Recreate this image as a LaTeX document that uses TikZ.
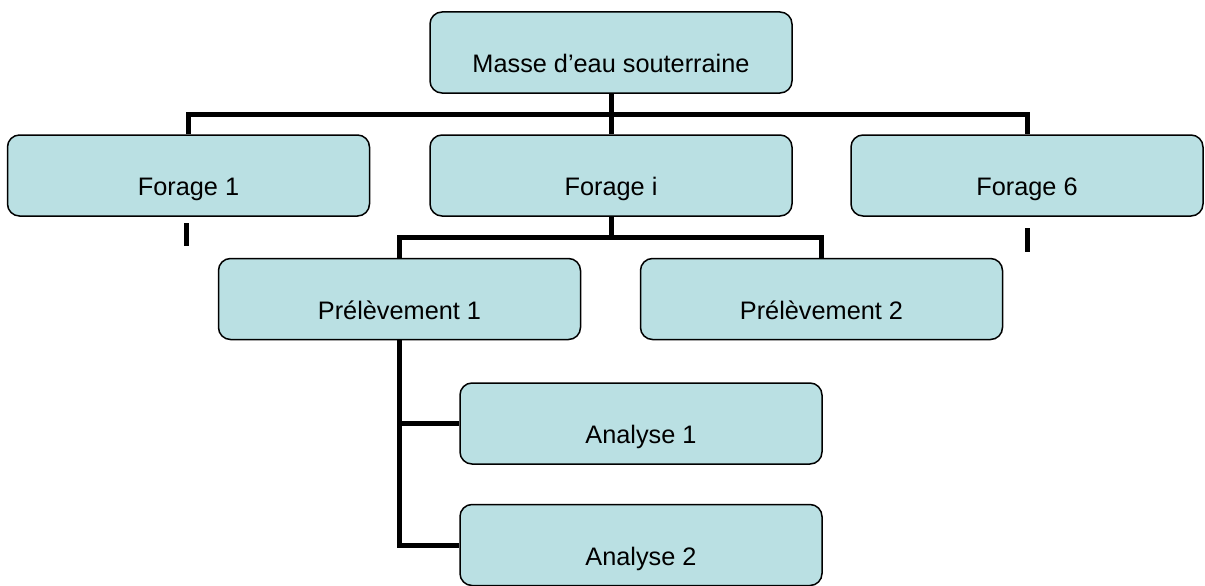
\documentclass[tikz,border=0pt]{standalone}
\usepackage{fontspec}
\setmainfont{Liberation Sans}
\definecolor{boxfill}{RGB}{186,224,227}
\begin{document}
\begin{tikzpicture}[x=1pt, y=-1pt,
    box/.style={draw=black, line width=1.5pt, fill=boxfill, rounded corners=12pt,
      minimum width=362pt, minimum height=81pt, inner sep=0pt,
      text height=40pt, text depth=0pt, font=\fontsize{25.3}{30}\selectfont},
    link/.style={line width=5pt}]
      \useasboundingbox (0,0) rectangle (1205,586);

      \node[box] (mes) at (611,52.5){Masse d’eau souterraine};
      \node[box] (f1) at (188.5,175.5){Forage 1};
      \node[box] (fi) at (611,175.5){Forage i};
      \node[box, minimum width=352pt] (f6) at (1027,175.5){Forage 6};
      \node[box] (p1) at (399.5,299){Prélèvement 1};
      \node[box] (p2) at (821.5,299){Prélèvement 2};
      \node[box] (a1) at (641,423.5){Analyse 1};
      \node[box] (a2) at (641,545){Analyse 2};

      \coordinate (bar) at (611,114);
      \coordinate (split) at (611,237);
      \coordinate (s1a) at (186,223);
      \coordinate (s1b) at (186,246);
      \coordinate (s6a) at (1027,228);
      \coordinate (s6b) at (1027,252);

      \draw[link] (mes.south) -- (fi.north);
      \draw[link] (f1.north) |- (bar) -| (f6.north);
      \draw[link] (fi.south) -- (split);
      \draw[link] (p1.north) |- (split) -| (p2.north);
      \draw[link] (p1.south) |- (a2.west);
      \draw[link] (a1.west) -- (a1.west -| p1.south);
        \draw[link] (s1a) -- (s1b);
        \draw[link] (s6a) -- (s6b);

    \end{tikzpicture}
\end{document}
